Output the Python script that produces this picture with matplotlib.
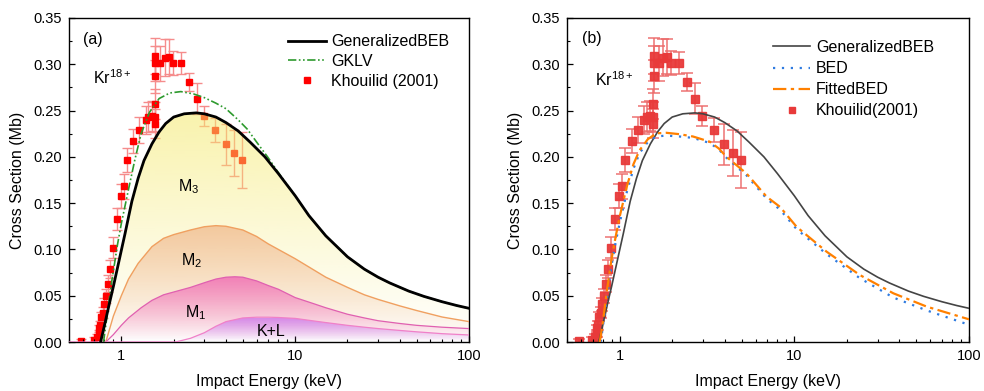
import numpy as np
import matplotlib
matplotlib.use("Agg")
import matplotlib.pyplot as plt
from matplotlib.colors import to_rgb
from matplotlib.lines import Line2D
from matplotlib.ticker import FixedLocator, LogLocator, MultipleLocator, NullFormatter, FormatStrFormatter

plt.rcParams['font.family'] = ['Liberation Sans', 'DejaVu Sans']
plt.rcParams['mathtext.fontset'] = 'custom'
plt.rcParams['mathtext.rm'] = 'Liberation Sans'
plt.rcParams['mathtext.it'] = 'Liberation Sans:italic'

# ---------------- data ----------------
# Experimental data, Khouilid (2001)
exp_E = [0.589, 0.697, 0.722, 0.742, 0.747, 0.755, 0.767, 0.782, 0.795, 0.817,
         0.839, 0.861, 0.892, 0.941, 0.992, 1.036, 1.074, 1.172, 1.269, 1.381,
         1.43, 1.495, 1.563, 1.563, 1.563, 1.567, 1.567, 1.567, 1.675, 1.775,
         1.873, 1.974, 2.195, 2.44, 2.71, 2.97, 3.45, 3.98, 4.46, 4.94]
exp_sigma = [0.001, 0.002, 0.0057, 0.0094, 0.0148, 0.018, 0.0274, 0.0317, 0.0407, 0.0497,
             0.063, 0.079, 0.102, 0.133, 0.158, 0.168, 0.197, 0.217, 0.229, 0.240,
             0.243, 0.244, 0.257, 0.243, 0.236, 0.287, 0.301, 0.309, 0.301, 0.307,
             0.308, 0.301, 0.301, 0.281, 0.263, 0.244, 0.229, 0.2136, 0.2045, 0.1966]
exp_err = [0.002, 0.003, 0.003, 0.004, 0.004, 0.005, 0.005, 0.006, 0.007, 0.008,
           0.009, 0.010, 0.011, 0.012, 0.013, 0.013, 0.013, 0.013, 0.014, 0.015,
           0.016, 0.016, 0.016, 0.016, 0.016, 0.018, 0.019, 0.019, 0.019, 0.020,
           0.019, 0.013, 0.012, 0.010, 0.017, 0.011, 0.013, 0.022, 0.025, 0.030]

# Generalized BEB (total)
gbeb_E = [0.76, 0.80, 0.85, 0.90, 0.95, 1.00, 1.05, 1.10, 1.15, 1.25, 1.35, 1.5, 1.65,
          1.8, 2.0, 2.3, 2.7, 3.0, 3.5, 4.0, 4.7, 5.5, 6.7, 8.0, 10.0, 12.0, 15.0,
          20.0, 25.0, 30.0, 35.0, 45.0, 55.0, 70.0, 85.0, 100.0]
gbeb = [0.0, 0.018, 0.040, 0.060, 0.080, 0.099, 0.117, 0.135, 0.152, 0.177, 0.196, 0.214,
        0.227, 0.236, 0.243, 0.2465, 0.2475, 0.2465, 0.243, 0.237, 0.228, 0.216, 0.200,
        0.182, 0.158, 0.1365, 0.1147, 0.092, 0.0787, 0.070, 0.0638, 0.055, 0.0493,
        0.0435, 0.0394, 0.0364]

# GKLV
gklv_E = [0.79, 0.83, 0.88, 0.95, 1.0, 1.1, 1.2, 1.3, 1.45, 1.65, 1.9, 2.2, 2.6, 3.0,
          3.5, 4.0, 4.7, 5.3, 6.0, 7.0, 8.0, 10.0, 12.0, 15.0, 20.0, 25.0, 30.0, 35.0,
          45.0, 55.0, 70.0, 85.0, 100.0]
gklv = [0.0, 0.03, 0.065, 0.105, 0.128, 0.165, 0.198, 0.225, 0.248, 0.263, 0.269, 0.2705,
        0.268, 0.264, 0.258, 0.252, 0.240, 0.230, 0.216, 0.199, 0.183, 0.158, 0.1365,
        0.1147, 0.092, 0.0787, 0.070, 0.0638, 0.055, 0.0493, 0.0435, 0.0394, 0.0364]

# Cumulative shell contributions: K+L+M1+M2 (orange), K+L+M1 (pink), K+L
m2_E = [0.814, 0.9, 1.0, 1.1, 1.25, 1.5, 1.75, 2.0, 2.5, 3.0, 3.5, 4.0, 5.0, 6.0, 7.0,
        8.0, 10.0, 12.5, 15.0, 20.0, 25.0, 30.0, 40.0, 50.0, 70.0, 100.0]
m2 = [0.0, 0.028, 0.050, 0.068, 0.085, 0.103, 0.112, 0.116, 0.121, 0.1245, 0.1257, 0.125,
      0.121, 0.114, 0.106, 0.100, 0.090, 0.079, 0.070, 0.059, 0.051, 0.046, 0.039, 0.034,
      0.027, 0.022]

m1_E = [0.814, 0.9, 1.0, 1.1, 1.3, 1.5, 1.75, 2.0, 2.5, 3.0, 3.5, 4.0, 4.5, 5.0, 6.0,
        7.0, 8.0, 10.0, 12.5, 15.0, 20.0, 25.0, 30.0, 40.0, 50.0, 70.0, 100.0]
m1 = [0.0, 0.008, 0.018, 0.026, 0.037, 0.045, 0.051, 0.054, 0.059, 0.064, 0.068, 0.070,
      0.0705, 0.070, 0.066, 0.061, 0.057, 0.048, 0.042, 0.037, 0.030, 0.026, 0.023, 0.020,
      0.018, 0.016, 0.0145]

kl_E = [0.5, 2.05, 2.5, 3.0, 3.5, 4.0, 5.0, 6.0, 7.0, 8.0, 10.0, 12.5, 15.0, 20.0, 25.0,
        30.0, 40.0, 50.0, 70.0, 100.0]
kl = [0.0, 0.0, 0.004, 0.010, 0.017, 0.022, 0.026, 0.0268, 0.0268, 0.0265, 0.0255, 0.023,
      0.021, 0.018, 0.016, 0.0145, 0.0125, 0.011, 0.009, 0.0076]

# Panel (b): BED and fitted BED
bed_E = [0.78, 0.80, 0.85, 0.90, 0.95, 1.0, 1.1, 1.2, 1.3, 1.45, 1.62, 1.85, 2.2, 2.63,
         3.28, 3.7, 4.09, 5.33, 6.94, 8.28, 10.3, 15.3, 23.7, 36.9, 57.5, 100.0]
bed = [0.0, 0.015, 0.050, 0.083, 0.108, 0.128, 0.162, 0.187, 0.204, 0.216, 0.222, 0.223,
       0.222, 0.2205, 0.215, 0.208, 0.199, 0.180, 0.155, 0.143, 0.122, 0.095, 0.069,
       0.048, 0.034, 0.0186]
fbed_E = [0.77, 0.80, 0.85, 0.90, 0.95, 1.0, 1.1, 1.2, 1.3, 1.45, 1.62, 1.85, 2.2, 2.63,
          3.28, 3.7, 4.09, 5.33, 6.94, 8.28, 10.3, 15.3, 23.7, 36.9, 57.5, 100.0]
fbed = [0.0, 0.020, 0.058, 0.090, 0.114, 0.135, 0.168, 0.192, 0.207, 0.219, 0.2254, 0.226,
        0.2245, 0.222, 0.2164, 0.209, 0.200, 0.182, 0.157, 0.146, 0.1245, 0.0976, 0.0724,
        0.0526, 0.0381, 0.0245]

yticks = [0.00, 0.05, 0.10, 0.15, 0.20, 0.25, 0.30, 0.35]
xticks = [1, 10, 100]
xticklabels = ['1', '10', '100']

# ---------------- figure ----------------
fig = plt.figure(figsize=(9.84, 3.91), dpi=100)
axA = fig.add_axes([69/984, 1-342/391, 400/984, 324/391])
axB = fig.add_axes([567/984, 1-342/391, 402/984, 324/391])

FS = 11.5
TFS = 10.5


def style_axis(ax):
    ax.set_xscale('log')
    ax.set_xlim(0.5, 100)
    ax.set_ylim(0, 0.35)
    ax.xaxis.set_major_locator(FixedLocator(xticks))
    ax.set_xticklabels(xticklabels)
    ax.xaxis.set_minor_locator(LogLocator(base=10, subs=np.arange(2, 10)))
    ax.xaxis.set_minor_formatter(NullFormatter())
    ax.set_yticks(yticks)
    ax.yaxis.set_major_formatter(FormatStrFormatter('%.2f'))
    ax.yaxis.set_minor_locator(MultipleLocator(0.025))
    ax.tick_params(which='both', direction='in', top=False, right=False, labelsize=TFS)
    ax.tick_params(which='major', length=4, width=0.9, pad=5)
    ax.tick_params(which='minor', length=2.5, width=0.8)
    ax.set_xlabel('Impact Energy (keV)', fontsize=FS, labelpad=8)
    ax.set_ylabel('Cross Section (Mb)', fontsize=FS, labelpad=6)
    for s in ax.spines.values():
        s.set_linewidth(1.0)


def grad_fill(ax, x, y, color, a_top, ytop, z):
    x = np.asarray(x); y = np.asarray(y)
    coll = ax.fill_between(x, y, 0, facecolor='none', edgecolor='none', zorder=z)
    n = 256
    rgba = np.zeros((n, 1, 4))
    rgba[..., :3] = to_rgb(color)
    rgba[:, 0, 3] = np.linspace(0.0, a_top, n)
    im = ax.imshow(rgba, extent=(x.min(), x.max(), 0, ytop), origin='lower',
                   aspect='auto', zorder=z, interpolation='bilinear')
    im.set_clip_path(coll.get_paths()[0], transform=ax.transData)
    return im


# ---- panel (a) ----
ax = axA
ax.errorbar(exp_E, exp_sigma, yerr=exp_err, fmt='s', ms=4.5, color='#ff0000',
            mec='#ff0000', ecolor='#f58c8c', elinewidth=1.0, capsize=3.5,
            capthick=1.0, zorder=1)
grad_fill(ax, gbeb_E, gbeb, '#f5ea70', 0.58, 0.25, 2)
grad_fill(ax, m2_E, m2, '#eca070', 0.55, 0.126, 2.1)
grad_fill(ax, m1_E, m1, '#ee44b0', 0.62, 0.071, 2.2)
grad_fill(ax, kl_E, kl, '#c060f0', 0.65, 0.027, 2.3)
ax.plot(m2_E, m2, color='#f0a060', lw=1.0, zorder=3)
ax.plot(m1_E, m1, color='#e060b0', lw=0.9, zorder=3)
ax.plot(kl_E, kl, color='#f080c8', lw=0.9, zorder=3)
ax.plot(gklv_E, gklv, color='#2e9a2e', lw=1.2, dashes=[5, 1.5, 1, 1.5, 1, 1.5], zorder=4)
ax.plot(gbeb_E, gbeb, color='black', lw=2.0, zorder=5)
style_axis(ax)
ax.text(0.035, 0.934, '(a)', transform=ax.transAxes, fontsize=FS, va='center', ha='left')
ax.text(0.06, 0.815, 'Kr$^{18+}$', transform=ax.transAxes, fontsize=FS, va='center', ha='left')
ax.text(2.45, 0.168, 'M$_3$', fontsize=FS, ha='center', va='center', zorder=6)
ax.text(2.55, 0.088, 'M$_2$', fontsize=FS, ha='center', va='center', zorder=6)
ax.text(2.67, 0.032, 'M$_1$', fontsize=FS, ha='center', va='center', zorder=6)
ax.text(7.26, 0.011, 'K+L', fontsize=FS, ha='center', va='center', zorder=6)
hA = [Line2D([], [], color='black', lw=2.0),
      Line2D([], [], color='#2e9a2e', lw=1.2, dashes=[5, 1.5, 1, 1.5, 1, 1.5]),
      Line2D([], [], color='#ff0000', marker='s', ms=4.5, ls='none')]
ax.legend(hA, ['GeneralizedBEB', 'GKLV', 'Khouilid (2001)'], loc='upper left',
          bbox_to_anchor=(0.5475, 0.95), frameon=False, fontsize=FS, borderpad=0,
          handlelength=2.35, handletextpad=0.35, labelspacing=0.3, borderaxespad=0)

# ---- panel (b) ----
ax = axB
ax.errorbar(exp_E, exp_sigma, yerr=exp_err, fmt='s', ms=5.5, color='#e83a3a',
            mec='#e83a3a', ecolor='#ec6b6b', elinewidth=1.1, capsize=4,
            capthick=1.1, alpha=0.95, zorder=1)
ax.plot(gbeb_E, gbeb, color='#444444', lw=1.2, zorder=3)
ax.plot(bed_E, bed, color='#2f7be0', lw=1.6, dashes=[1, 3], zorder=4)
ax.plot(fbed_E, fbed, color='#ff8000', lw=1.6, dashes=[6, 2, 1.5, 2], zorder=5)
style_axis(ax)
ax.text(0.037, 0.937, '(b)', transform=ax.transAxes, fontsize=FS, va='center', ha='left')
ax.text(0.07, 0.809, 'Kr$^{18+}$', transform=ax.transAxes, fontsize=FS, va='center', ha='left')
hB = [Line2D([], [], color='#444444', lw=1.2),
      Line2D([], [], color='#2f7be0', lw=1.6, dashes=[1, 3]),
      Line2D([], [], color='#ff8000', lw=1.6, dashes=[6, 2, 1.5, 2]),
      Line2D([], [], color='#e83a3a', marker='s', ms=5, ls='none')]
ax.legend(hB, ['GeneralizedBEB', 'BED', 'FittedBED', 'Khouilid(2001)'], loc='upper left',
          bbox_to_anchor=(0.512, 0.932), frameon=False, fontsize=FS, borderpad=0,
          handlelength=2.35, handletextpad=0.35, labelspacing=0.38, borderaxespad=0)

fig.savefig('out.png', dpi=100)
